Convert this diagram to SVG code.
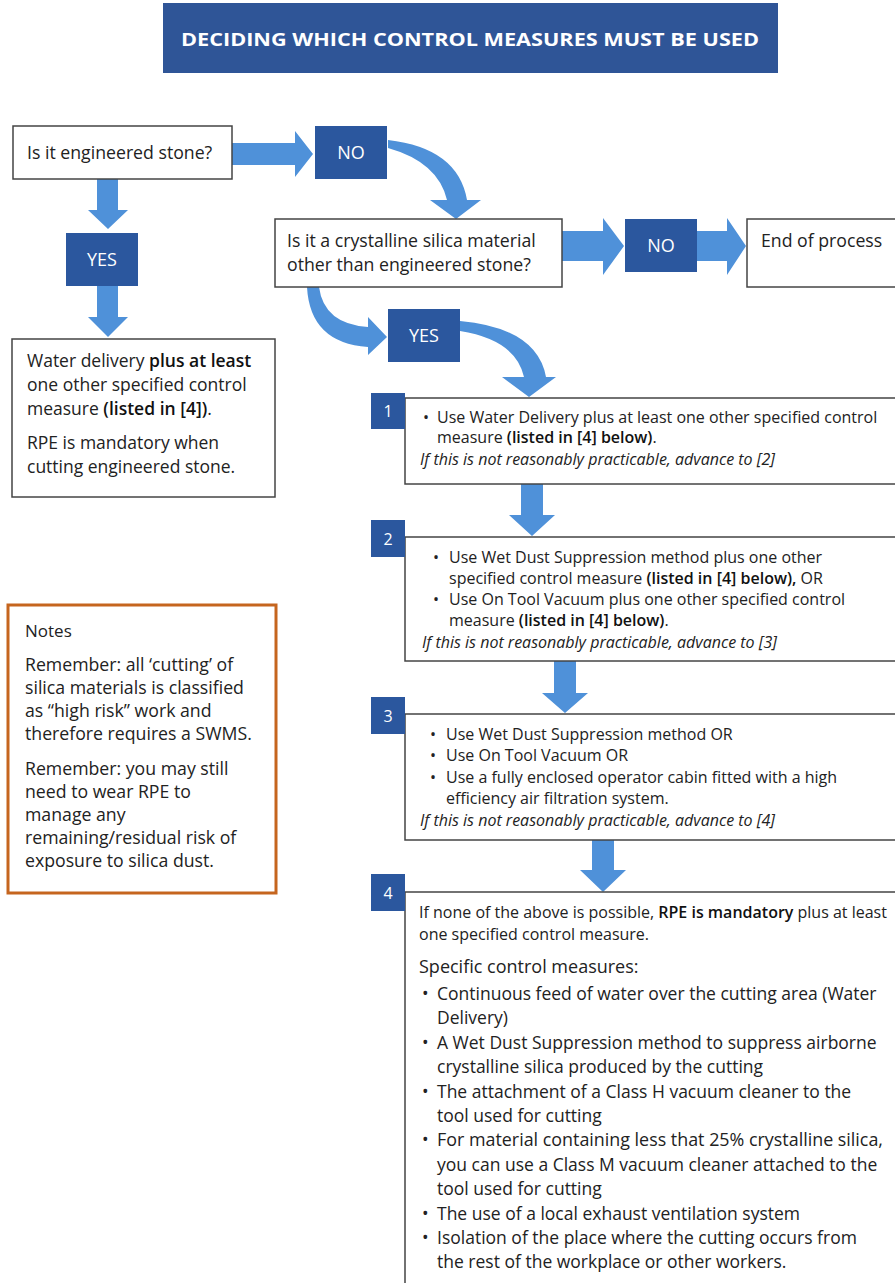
<svg xmlns="http://www.w3.org/2000/svg" width="895" height="1283" viewBox="0 0 895 1283">
<style>
text{font-family:"Open Sans","Liberation Sans",sans-serif;fill:#222;}
.box{fill:#fff;stroke:#444;stroke-width:1.5;}
.dk{fill:#2B579E;}
.lbl{fill:#fff;font-size:18px;text-anchor:middle;}
.num{fill:#fff;font-size:16px;text-anchor:middle;}
.arr{fill:#4F91D9;stroke:none;}
.t18{font-size:17.7px;}
.t16{font-size:16px;}
.tl{font-size:17.5px;}
.b{font-weight:600;fill:#111;}
.i{font-style:italic;}
</style>
<rect width="895" height="1283" fill="#fff"/>
<g id="title">
<rect x="163" y="3" width="615" height="70" fill="#2F5597"/>
<text x="470" y="46" text-anchor="middle" font-size="18" font-weight="700" style="fill:#fff" textLength="578" lengthAdjust="spacingAndGlyphs">DECIDING WHICH CONTROL MEASURES MUST BE USED</text>
</g>
<g id="connectors">
<path class="arr" d="M232,143 L295,143 L295,131 L313,154 L295,177 L295,165 L232,165 Z"/>
<path class="arr" d="M97,179 L118,179 L118,210 L128,210 L108,229 L88,210 L97,210 Z"/>
<path class="arr" d="M97,286 L118,286 L118,317 L128,317 L108,337 L88,317 L97,317 Z"/>
<path class="arr" d="M388,140 Q458,148 467,200 L481,200 L456,219 L430,200 L447,200 Q438,162 388,148 Z"/>
<path class="arr" d="M562,231 L603,231 L603,218 L624,246 L603,275 L603,261 L562,261 Z"/>
<path class="arr" d="M697,231 L727,231 L727,218 L746,246 L727,275 L727,261 L697,261 Z"/>
<path class="arr" d="M307,287 Q310,343 368,347 L368,355 L387,337 L368,317 L368,327 Q324,324 319,287 Z"/>
<path class="arr" d="M460,321 Q537,328 546,377 L556,377 L529,397 L502,377 L524,377 Q516,340 460,331 Z"/>
<path class="arr" d="M521,484 L543,484 L543,515 L555,515 L532,536 L509,515 L521,515 Z"/>
<path class="arr" d="M554,661 L576,661 L576,693 L588,693 L565,713 L542,693 L554,693 Z"/>
<path class="arr" d="M592,840 L614,840 L614,870 L626,870 L603,892 L580,870 L592,870 Z"/>
</g>
<g id="q1">
<rect class="box" x="13" y="126" width="219" height="53"/>
<text class="t18" x="27" y="159">Is it engineered stone?</text>
</g>
<g id="no1">
<rect class="dk" x="315" y="126" width="72" height="53"/>
<text class="lbl" x="351" y="159">NO</text>
</g>
<g id="yes1">
<rect class="dk" x="66" y="233" width="72" height="53"/>
<text class="lbl" x="102" y="266">YES</text>
</g>
<g id="es-result">
<rect class="box" x="12" y="339" width="263" height="158"/>
<text class="tl" x="27" y="367">Water delivery <tspan class="b">plus at least</tspan></text>
<text class="tl" x="27" y="391">one other specified control</text>
<text class="tl" x="27" y="415">measure <tspan class="b">(listed in [4])</tspan>.</text>
<text class="tl" x="27" y="449">RPE is mandatory when</text>
<text class="tl" x="27" y="473">cutting engineered stone.</text>
</g>
<g id="q2">
<rect class="box" x="275" y="219" width="287" height="68"/>
<text class="t18" x="287" y="247">Is it a crystalline silica material</text>
<text class="t18" x="287" y="271">other than engineered stone?</text>
</g>
<g id="no2">
<rect class="dk" x="625" y="219" width="72" height="53"/>
<text class="lbl" x="661" y="252">NO</text>
</g>
<g id="end">
<rect class="box" x="747" y="219" width="152" height="68"/>
<text class="t18" x="761" y="247">End of process</text>
</g>
<g id="yes2">
<rect class="dk" x="388" y="309" width="72" height="53"/>
<text class="lbl" x="424" y="342">YES</text>
</g>
<g id="step1">
<rect class="box" x="405" y="398" width="495" height="86"/>
<rect class="dk" x="371" y="393" width="34" height="36"/>
<text class="num" x="388" y="417">1</text>
<text class="t16" x="423" y="423">•</text>
<text class="t16" x="437" y="423">Use Water Delivery plus at least one other specified control</text>
<text class="t16" x="437" y="443">measure <tspan class="b">(listed in [4] below)</tspan>.</text>
<text class="t16 i" x="420" y="465">If this is not reasonably practicable, advance to [2]</text>
</g>
<g id="step2">
<rect class="box" x="405" y="537" width="495" height="124"/>
<rect class="dk" x="371" y="520" width="34" height="37"/>
<text class="num" x="388" y="545">2</text>
<text class="t16" x="433" y="563">•</text>
<text class="t16" x="449" y="563">Use Wet Dust Suppression method plus one other</text>
<text class="t16" x="449" y="584">specified control measure <tspan class="b">(listed in [4] below),</tspan> OR</text>
<text class="t16" x="433" y="605">•</text>
<text class="t16" x="449" y="605">Use On Tool Vacuum plus one other specified control</text>
<text class="t16" x="449" y="626">measure <tspan class="b">(listed in [4] below)</tspan>.</text>
<text class="t16 i" x="422" y="648">If this is not reasonably practicable, advance to [3]</text>
</g>
<g id="step3">
<rect class="box" x="405" y="714" width="495" height="126"/>
<rect class="dk" x="371" y="697" width="34" height="37"/>
<text class="num" x="388" y="722">3</text>
<text class="t16" x="430" y="740">•</text>
<text class="t16" x="446" y="740">Use Wet Dust Suppression method OR</text>
<text class="t16" x="430" y="761">•</text>
<text class="t16" x="446" y="761">Use On Tool Vacuum OR</text>
<text class="t16" x="430" y="783">•</text>
<text class="t16" x="446" y="783">Use a fully enclosed operator cabin fitted with a high</text>
<text class="t16" x="446" y="804">efficiency air filtration system.</text>
<text class="t16 i" x="420" y="826">If this is not reasonably practicable, advance to [4]</text>
</g>
<g id="step4">
<rect class="box" x="405" y="892" width="495" height="400"/>
<rect class="dk" x="371" y="874" width="34" height="37"/>
<text class="num" x="388" y="899">4</text>
<text class="t16" x="419" y="918">If none of the above is possible, <tspan class="b">RPE is mandatory</tspan> plus at least</text>
<text class="t16" x="419" y="940">one specified control measure.</text>
<text x="419" y="973" font-size="18">Specific control measures:</text>
<text class="tl" x="422" y="1000">•</text>
<text class="tl" x="437" y="1000">Continuous feed of water over the cutting area (Water</text>
<text class="tl" x="437" y="1024.4">Delivery)</text>
<text class="tl" x="422" y="1048.8">•</text>
<text class="tl" x="437" y="1048.8">A Wet Dust Suppression method to suppress airborne</text>
<text class="tl" x="437" y="1073.2">crystalline silica produced by the cutting</text>
<text class="tl" x="422" y="1097.6">•</text>
<text class="tl" x="437" y="1097.6">The attachment of a Class H vacuum cleaner to the</text>
<text class="tl" x="437" y="1122">tool used for cutting</text>
<text class="tl" x="422" y="1146.4">•</text>
<text class="tl" x="437" y="1146.4" textLength="446" lengthAdjust="spacingAndGlyphs">For material containing less that 25% crystalline silica,</text>
<text class="tl" x="437" y="1170.8">you can use a Class M vacuum cleaner attached to the</text>
<text class="tl" x="437" y="1195.2">tool used for cutting</text>
<text class="tl" x="422" y="1219.6">•</text>
<text class="tl" x="437" y="1219.6">The use of a local exhaust ventilation system</text>
<text class="tl" x="422" y="1244">•</text>
<text class="tl" x="437" y="1244">Isolation of the place where the cutting occurs from</text>
<text class="tl" x="437" y="1268.4">the rest of the workplace or other workers.</text>
</g>
<g id="notes">
<rect x="8" y="605" width="268" height="288" fill="#fff" stroke="#C5651E" stroke-width="3"/>
<text x="25" y="637" font-size="17">Notes</text>
<text class="t18" x="25" y="671">Remember: all ‘cutting’ of</text>
<text class="t18" x="25" y="694">silica materials is classified</text>
<text class="t18" x="25" y="717">as “high risk” work and</text>
<text class="t18" x="25" y="740">therefore requires a SWMS.</text>
<text class="t18" x="25" y="775">Remember: you may still</text>
<text class="t18" x="25" y="798">need to wear RPE to</text>
<text class="t18" x="25" y="821">manage any</text>
<text class="t18" x="25" y="844">remaining/residual risk of</text>
<text class="t18" x="25" y="867">exposure to silica dust.</text>
</g>
</svg>
